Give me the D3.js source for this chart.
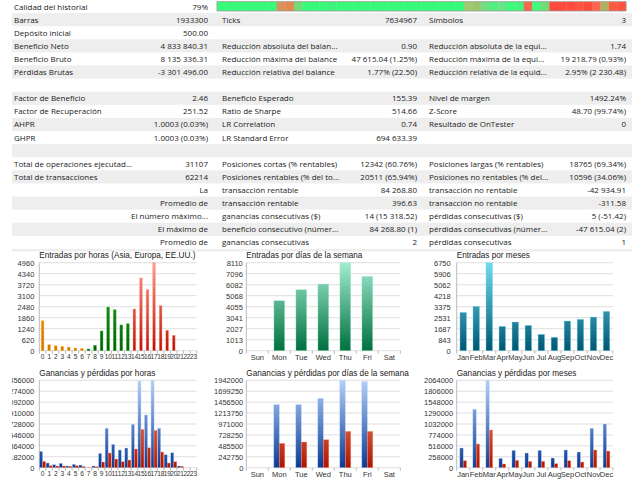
<html>
<head>
<meta charset="utf-8">
<script src="https://d3js.org/d3.v7.min.js"></script>
<style>
body { margin: 0; background: #fff; }
.tbl { font-family: "Open Sans", "Noto Sans", sans-serif; font-size: 8px; fill: #222; }
.ttl { font-family: "Liberation Sans", Arial, sans-serif; font-size: 8.2px; fill: #222; }
.tick text { font-family: "Liberation Sans", Arial, sans-serif; font-size: 7.5px; fill: #333; }
.tight .tick text { font-size: 6.6px; letter-spacing: -0.2px; }
</style>
</head>
<body>
<div id="report"></div>
<script>
// ---- report table ----
const col1Labels = ["Calidad del historial", "Barras", "Depósito inicial", "Beneficio Neto", "Beneficio Bruto", "Pérdidas Brutas", "",
  "Factor de Beneficio", "Factor de Recuperación", "AHPR", "GHPR", "",
  "Total de operaciones ejecutad...", "Total de transacciones", "", "", "", "", ""];
const col1Values = ["79%", "1933300", "500.00", "4 833 840.31", "8 135 336.31", "-3 301 496.00", "",
  "2.46", "251.52", "1.0003 (0.03%)", "1.0003 (0.03%)", "",
  "31107", "62214", "La", "Promedio de", "El número máximo...", "El máximo de", "Promedio de"];
const col2Labels = ["", "Ticks", "", "Reducción absoluta del balan...", "Reducción máxima del balance", "Reducción relativa del balance", "",
  "Beneficio Esperado", "Ratio de Sharpe", "LR Correlation", "LR Standard Error", "",
  "Posiciones cortas (% rentables)", "Posiciones rentables (% del to...", "transacción rentable", "transacción rentable",
  "ganancias consecutivas ($)", "beneficio consecutivo (númer...", "ganancias consecutivas"];
const col2Values = ["", "7634967", "", "0.90", "47 615.04 (1.25%)", "1.77% (22.50)", "",
  "155.39", "514.66", "0.74", "694 633.39", "",
  "12342 (60.76%)", "20511 (65.94%)", "84 268.80", "396.63", "14 (15 318.52)", "84 268.80 (1)", "2"];
const col3Labels = ["", "Símbolos", "", "Reducción absoluta de la equi...", "Reducción máxima de la equi...", "Reducción relativa de la equid...", "",
  "Nivel de margen", "Z-Score", "Resultado de OnTester", "", "",
  "Posiciones largas (% rentables)", "Posiciones no rentables (% del...", "transacción no rentable", "transacción no rentable",
  "pérdidas consecutivas ($)", "pérdidas consecutivas (númer...", "pérdidas consecutivas"];
const col3Values = ["", "3", "", "1.74", "19 218.79 (0.93%)", "2.95% (2 230.48)", "",
  "1492.24%", "48.70 (99.74%)", "0", "", "",
  "18765 (69.34%)", "10596 (34.06%)", "-42 934.91", "-311.58", "5 (-51.42)", "-47 615.04 (2)", "1"];

// history quality strip, one colour per time slice
const qualityCells = ["#36fb78", "#36fb78", "#36fb78", "#36fb78", "#36fb78", "#36fb78", "#36fb78", "#d8925e", "#e4884e", "#74da78",
  "#36fb78", "#36fb78", "#36fb78", "#3ef47c", "#36fb78", "#36fb78", "#36fb78", "#36fb78", "#36fb78", "#36fb78",
  "#36fb78", "#36fb78", "#36fb78", "#36fb78", "#36fb78", "#36fb78", "#36fb78", "#36fb78", "#36fb78", "#a2c872",
  "#9ac66c", "#6ce084", "#50f080", "#66e488", "#3cfa7a", "#44f47c", "#f26a4a", "#40fa7c", "#70dc78", "#ff4b3b",
  "#ff4b3b", "#ff4b3b", "#ff553f", "#ff4b3b", "#ff6650", "#b0b060", "#ff5a40", "#ff5040"];

// ---- charts ----
const hours = ["0", "1", "2", "3", "4", "5", "6", "7", "8", "9", "10", "11", "12", "13", "14", "15", "16", "17", "18", "19", "20", "21", "22", "23"];
const hourEntries = [1690, 340, 280, 245, 205, 150, 130, 95, 300, 1110, 2460, 2310, 1450, 1520, 2350, 4100, 3440, 4960, 2540, 1150, 865, 0, 0, 0];
const hourTicks = [0, 620, 1240, 1860, 2480, 3100, 3720, 4340, 4960];
const hourProfit = [272000, 78000, 50000, 72000, 28000, 56000, 44000, 4000, 28000, 239000, 656000, 389000, 295000, 328000, 722000, 1440000, 878000, 1456000, 656000, 217000, 250000, 28000, 0, 0];
const hourLoss = [106000, 33000, 28000, 28000, 22000, 33000, 22000, 2000, 17000, 94000, 245000, 144000, 100000, 128000, 311000, 639000, 333000, 622000, 261000, 78000, 100000, 22000, 0, 0];
const hourPLTicks = [0, 182000, 364000, 546000, 728000, 910000, 1092000, 1274000, 1456000];

const days = ["Sun", "Mon", "Tue", "Wed", "Thu", "Fri", "Sat"];
const dayEntries = [0, 4610, 5620, 6140, 8110, 6850, 0];
const dayTicks = [0, 1013, 2027, 3041, 4055, 5068, 6082, 7096, 8110];
const dayProfit = [0, 1401000, 1401000, 1542000, 1942000, 1912000, 0];
const dayLoss = [0, 541000, 571000, 623000, 808000, 808000, 0];
const dayPLTicks = [0, 242750, 485500, 728250, 971000, 1213750, 1456500, 1699250, 1942000];

const months = ["Jan", "Feb", "Mar", "Apr", "May", "Jun", "Jul", "Aug", "Sep", "Oct", "Nov", "Dec"];
const monthEntries = [2940, 3400, 6750, 1866, 2199, 1943, 1253, 1023, 2276, 2403, 2582, 3017];
const monthTicks = [0, 843, 1687, 2531, 3375, 4218, 5062, 5906, 6750];
const monthProfit = [465000, 1379000, 2064000, 221000, 410000, 347000, 410000, 228000, 418000, 370000, 930000, 1032000];
const monthLoss = [165000, 559000, 890000, 87000, 173000, 150000, 150000, 95000, 165000, 134000, 418000, 394000];
const monthPLTicks = [0, 258000, 516000, 774000, 1032000, 1290000, 1548000, 1806000, 2064000];

var grads = {
  orange: ["#ffbb33", "#d87400"],
  green: ["#30b030", "#006400"],
  red: ["#ffa090", "#c01000"],
  mint: ["#a0ecd0", "#00703f"],
  teal: ["#70dcf0", "#005672"],
  blue: ["#b4d0f8", "#083a98"],
  loss: ["#ffa080", "#b01400"]
};

var svg = d3.select("#report").append("svg").attr("width", 640).attr("height", 480);
var defs = svg.append("defs");

// zebra rows
var rowH = 13.1;
var yRow = d3.scaleBand().domain(d3.range(20)).range([0, rowH * 20]);
svg.append("g").selectAll("rect")
  .data(d3.range(20).filter(i => i % 2 == 1))
  .enter().append("rect")
  .attr("x", 12).attr("width", 620)
  .attr("y", i => yRow(i)).attr("height", yRow.bandwidth())
  .attr("fill", "#eeeeee");

var cols = [
  {data: col1Labels, x: 14, anchor: "start"},
  {data: col1Values, x: 208, anchor: "end"},
  {data: col2Labels, x: 222, anchor: "start"},
  {data: col2Values, x: 417, anchor: "end"},
  {data: col3Labels, x: 429, anchor: "start"},
  {data: col3Values, x: 626, anchor: "end"}
];
cols.forEach(function(c) {
  svg.append("g").selectAll("text")
    .data(c.data)
    .enter().append("text")
    .attr("class", "tbl")
    .attr("x", c.x)
    .attr("y", (d, i) => yRow(i) + rowH / 2 + 3)
    .attr("text-anchor", c.anchor)
    .text(d => d);
});

// quality strip
var xq = d3.scaleBand().domain(d3.range(qualityCells.length)).range([217, 626]);
svg.append("g").selectAll("rect")
  .data(qualityCells)
  .enter().append("rect")
  .attr("x", (d, i) => xq(i)).attr("width", xq.bandwidth() + 0.3)
  .attr("y", 1.7).attr("height", 9.3)
  .attr("fill", d => d);
svg.append("rect").attr("x", 217).attr("y", 1.7).attr("width", 409).attr("height", 9.3)
  .attr("fill", "none").attr("stroke", "#9a9a9a").attr("stroke-width", 0.8);

// chart area
svg.append("rect").attr("x", 0).attr("y", 251.5).attr("width", 640).attr("height", 230).attr("fill", "#fff");

function hourColor(i) { return i < 7 ? "orange" : (i < 14 ? "green" : "red"); }

var charts = [
  {id: "c1", title: "Entradas por horas (Asia, Europa, EE.UU.)", cats: hours, series: [hourEntries], colors: [hourColor],
   ticks: hourTicks, x0: 39.3, x1: 196.7, y0: 262.7, y1: 350.7, frac: 0.42, clipX: 12, clipW: 200, pad: 5, tight: true},
  {id: "c2", title: "Entradas por días de la semana", cats: days, series: [dayEntries], colors: [() => "mint"],
   ticks: dayTicks, x0: 246.3, x1: 400.3, y0: 262.7, y1: 350.7, frac: 0.49, clipX: 212, clipW: 213, pad: 3.5},
  {id: "c3", title: "Entradas por meses", cats: months, series: [monthEntries], colors: [() => "teal"],
   ticks: monthTicks, x0: 456.7, x1: 613, y0: 262.7, y1: 350.7, frac: 0.5, clipX: 425, clipW: 215, pad: 6},
  {id: "c4", title: "Ganancias y pérdidas por horas", cats: hours, series: [hourProfit, hourLoss], colors: [() => "blue", () => "loss"],
   ticks: hourPLTicks, x0: 39.3, x1: 196.7, y0: 380.3, y1: 467.7, frac: 0.92, clipX: 12, clipW: 200, pad: 5, tight: true},
  {id: "c5", title: "Ganancias y pérdidas por días de la semana", cats: days, series: [dayProfit, dayLoss], colors: [() => "blue", () => "loss"],
   ticks: dayPLTicks, x0: 246.3, x1: 400.3, y0: 380.3, y1: 467.7, frac: 0.5, clipX: 212, clipW: 213, pad: 3},
  {id: "c6", title: "Ganancias y pérdidas por meses", cats: months, series: [monthProfit, monthLoss], colors: [() => "blue", () => "loss"],
   ticks: monthPLTicks, x0: 456.7, x1: 613, y0: 380.3, y1: 467.7, frac: 0.52, clipX: 424, clipW: 216, pad: 3.5}
];

charts.forEach(function(c) {
  defs.append("clipPath").attr("id", "clip-" + c.id)
    .append("rect").attr("x", c.clipX).attr("y", c.y0 - 20).attr("width", c.clipW).attr("height", 125);
  Object.keys(grads).forEach(function(k) {
    var lg = defs.append("linearGradient").attr("id", c.id + "-" + k)
      .attr("gradientUnits", "userSpaceOnUse")
      .attr("x1", 0).attr("x2", 0).attr("y1", c.y0).attr("y2", c.y1);
    lg.append("stop").attr("offset", "0%").attr("stop-color", grads[k][0]);
    lg.append("stop").attr("offset", "100%").attr("stop-color", grads[k][1]);
  });

  var g = svg.append("g").attr("clip-path", "url(#clip-" + c.id + ")");
  var x = d3.scaleBand().domain(c.cats).range([c.x0, c.x1]);
  var y = d3.scaleLinear().domain([0, c.ticks[c.ticks.length - 1]]).range([c.y1, c.y0]);

  g.append("text").attr("class", "ttl").attr("x", c.x0).attr("y", c.y0 - 4.5).text(c.title);

  // grid
  g.append("g").selectAll("line")
    .data(c.ticks)
    .enter().append("line")
    .attr("x1", c.x0).attr("x2", c.x1)
    .attr("y1", d => y(d)).attr("y2", d => y(d))
    .attr("stroke", "#d6d6d6").attr("stroke-width", 0.8);
  g.append("line").attr("x1", c.x0).attr("x2", c.x0).attr("y1", c.y0).attr("y2", c.y1 + 3)
    .attr("stroke", "#a8a8a8").attr("stroke-width", 0.8);
  g.append("g").selectAll("line")
    .data(c.cats)
    .enter().append("line")
    .attr("x1", d => x(d) + x.bandwidth()).attr("x2", d => x(d) + x.bandwidth())
    .attr("y1", c.y1).attr("y2", c.y1 + 3)
    .attr("stroke", "#a8a8a8").attr("stroke-width", 0.8);

  var yAxis = d3.axisLeft(y).tickValues(c.ticks).tickSize(0).tickPadding(c.pad).tickFormat(d3.format("d"));
  var ya = g.append("g").attr("transform", "translate(" + c.x0 + ",0)").call(yAxis);
  ya.select(".domain").remove();
  ya.attr("font-family", null).attr("font-size", null);

  var xAxis = d3.axisBottom(x).tickSize(0).tickPadding(3.9);
  var xa = g.append("g").attr("transform", "translate(0," + c.y1 + ")").call(xAxis);
  xa.select(".domain").remove();
  xa.attr("font-family", null).attr("font-size", null);
  if (c.tight) xa.attr("class", "tight");

  // bars
  var n = c.series.length;
  var groupW = x.bandwidth() * c.frac;
  var inner = d3.scaleBand().domain(d3.range(n)).range([0, groupW]);
  c.series.forEach(function(vals, s) {
    g.append("g").selectAll("rect")
      .data(vals)
      .enter().append("rect")
      .attr("x", (d, i) => x(c.cats[i]) + (x.bandwidth() - groupW) / 2 + inner(s))
      .attr("width", inner.bandwidth())
      .attr("y", d => y(d))
      .attr("height", d => y(0) - y(d))
      .attr("fill", (d, i) => "url(#" + c.id + "-" + c.colors[s](i) + ")")
      .attr("stroke", (d, i) => grads[c.colors[s](i)][0])
      .attr("stroke-opacity", 0.6)
      .attr("stroke-width", d => d > 0 ? 0.6 : 0);
  });
});
</script>
</body>
</html>
